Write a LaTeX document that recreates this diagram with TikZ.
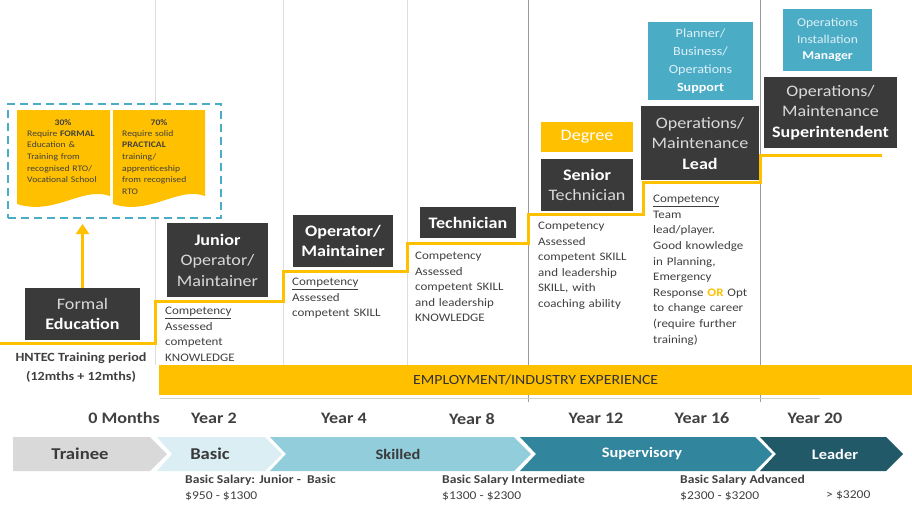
\documentclass[tikz,border=0pt]{standalone}
\usepackage{fontspec}
\setmainfont{Carlito}[FakeStretch=1.13]
\usetikzlibrary{arrows.meta}
\definecolor{boxdark}{HTML}{3A3A3A}
\definecolor{boxlt}{HTML}{D9D9D9}
\definecolor{gold}{HTML}{FFC000}
\definecolor{tealfill}{HTML}{4BACC6}
\definecolor{tealtxt}{HTML}{DDF0F6}
\definecolor{txt}{HTML}{404040}
\definecolor{gridlt}{HTML}{DDDDDD}
\definecolor{griddk}{HTML}{9A9A9A}
\definecolor{chevA}{HTML}{D9D9D9}
\definecolor{chevB}{HTML}{DAEEF3}
\definecolor{chevC}{HTML}{92CDDC}
\definecolor{chevD}{HTML}{31859C}
\definecolor{chevE}{HTML}{215968}
\newcommand\bw[1]{\textbf{\color{white}#1}}
\begin{document}
\begin{tikzpicture}[x=1pt,y=-1pt,
  darkbox/.style={fill=boxdark, text=boxlt, align=center, inner sep=0pt, font=\fontsize{16}{20.5}\selectfont},
  tealbox/.style={fill=tealfill, text=tealtxt, align=center, inner sep=0pt, font=\fontsize{12.5}{17.5}\selectfont},
  comp/.style={anchor=north west, inner sep=0pt, text width=125pt, align=left, text=txt, font=\fontsize{11.5}{15.5}\selectfont},
  doctxt/.style={anchor=north west, inner sep=0pt, text width=90pt, align=left, text=txt, font=\fontsize{8.5}{11.7}\selectfont},
  pct/.style={inner sep=0pt, text=txt, font=\fontsize{8.5}{10}\selectfont\bfseries},
  yearlbl/.style={inner sep=0pt, text=txt, font=\fontsize{16}{19}\selectfont\bfseries},
  chevlbl/.style={inner sep=0pt, font=\fontsize{14.5}{18}\selectfont\bfseries},
  sal/.style={anchor=west, inner sep=0pt, text=txt, font=\fontsize{12}{14}\selectfont},
  salb/.style={sal, font=\fontsize{12}{14}\selectfont\bfseries},
  stair/.style={draw=gold, line width=3pt},
]
\useasboundingbox (0,0) rectangle (912,504);
% grid lines
\draw[gridlt, line width=0.8pt] (155,0) -- (155,365) (283,0) -- (283,365) (407,0) -- (407,365);
\draw[griddk, line width=1pt] (528,0) -- (528,402) (760,0) -- (760,402);
% dashed box and documents
\node[draw=tealfill, fill=white, line width=2pt, dash pattern=on 8pt off 5pt, minimum width=213, minimum height=114, inner sep=0pt, anchor=north west] (dashbox) at (7,103) {};
\fill[gold] (17,110) -- (110,110) -- (110,196) .. controls (82,186) and (55,216) .. (17,204) -- cycle;
\fill[gold] (113,110) -- (205,110) -- (205,196) .. controls (178,186) and (150,216) .. (113,204) -- cycle;
\node[pct] (p1) at (63,123) {30\%};
\node[pct] (p2) at (159,123) {70\%};
\node[doctxt] (d1) at (27,130) {Require \textbf{FORMAL}\\Education \&\\Training from\\recognised RTO/\\Vocational School};
\node[doctxt] (d2) at (122,130) {Require solid\\\textbf{PRACTICAL}\\training/\\apprenticeship\\from recognised\\RTO};
% staircase
\draw[stair] (0,343) -- (155,343) -- (155,301) -- (283,301) -- (283,271) -- (407,271) -- (407,243) -- (528,243) -- (528,214) -- (643,214) -- (643,182) -- (760,182) -- (760,155) -- (882,155);
% dark boxes
\node[darkbox, minimum width=115, minimum height=52] (formal) at (82.5,314) {Formal\\\bw{Education}};
\node[darkbox, minimum width=101, minimum height=74] (junior) at (217.5,260) {\bw{Junior}\\Operator/\\Maintainer};
\node[darkbox, minimum width=100, minimum height=52] (oper) at (343,241) {\bw{Operator/}\\\bw{Maintainer}};
\node[darkbox, minimum width=96, minimum height=31] (tech) at (468,222.5) {\bw{Technician}};
\node[darkbox, minimum width=92, minimum height=52] (senior) at (587,185) {\bw{Senior}\\Technician};
\node[darkbox, fill=gold, text=white, minimum width=92, minimum height=30] (degree) at (587,137) {Degree};
\node[darkbox, minimum width=118, minimum height=74] (lead) at (700,143) {Operations/\\Maintenance\\\bw{Lead}};
\node[darkbox, minimum width=133, minimum height=71] (super) at (830.5,112.5) {Operations/\\Maintenance\\\bw{Superintendent}};
\node[tealbox, font=\fontsize{12.5}{18}\selectfont, minimum width=105, minimum height=78] (planner) at (700.5,61) {Planner/\\Business/\\Operations\\\bw{Support}};
\node[tealbox, font=\fontsize{12}{16.5}\selectfont, minimum width=89, minimum height=62] (oim) at (827.5,40) {Operations\\Installation\\\bw{Manager}};
% arrow
\draw[gold, line width=3pt, -{Triangle[width=13pt,length=10pt]}, shorten >=5pt] (formal.north) -- (formal.north |- dashbox.south);
% HNTEC
\node[inner sep=0pt, align=center, text=txt, font=\fontsize{12.5}{19}\selectfont\bfseries] (hntec) at (81,368) {HNTEC Training period\\(12mths + 12mths)};
% competency texts
\node[comp] (cj) at (165,307) {\underline{Competency}\\Assessed\\competent\\KNOWLEDGE};
\node[comp] (co) at (292,278) {\underline{Competency}\\Assessed\\competent SKILL};
\node[comp] (ct) at (415,252) {Competency\\Assessed\\competent SKILL\\and leadership\\KNOWLEDGE};
\node[comp] (cs) at (538,222) {Competency\\Assessed\\competent SKILL\\and leadership\\SKILL, with\\coaching ability};
\node[comp, font=\fontsize{11.5}{15.6}\selectfont] (cl) at (653,195) {\underline{Competency}\\Team\\lead/player.\\Good knowledge\\in Planning,\\Emergency\\Response \textcolor{gold}{\textbf{OR}} Opt\\to change career\\(require further\\training)};
% employment bar
\node[fill=gold, minimum width=753, minimum height=30, inner sep=0pt, anchor=north west, text=black!80, font=\fontsize{14}{16}\selectfont] (emp) at (159,365) {EMPLOYMENT/INDUSTRY EXPERIENCE};
\draw[gray!35, line width=1pt] (160,398) -- (820,398);
% years
\node[yearlbl] (y0) at (124,418) {0 Months};
\node[yearlbl] (y2) at (214,418) {Year 2};
\node[yearlbl] (y4) at (344,418) {Year 4};
\node[yearlbl] (y8) at (472,419) {Year 8};
\node[yearlbl] (y12) at (596,418) {Year 12};
\node[yearlbl] (y16) at (702,418) {Year 16};
\node[yearlbl] (y20) at (815,418) {Year 20};
% chevrons
\fill[chevA] (13,437) -- (150,437) -- (167,454) -- (150,471) -- (13,471) -- cycle;
\fill[chevB] (157,437) -- (265,437) -- (282,454) -- (265,471) -- (157,471) -- (172,454) -- cycle;
\fill[chevC] (270,437) -- (514,437) -- (531,454) -- (514,471) -- (270,471) -- (286,454) -- cycle;
\fill[chevD] (520,437) -- (755,437) -- (772,454) -- (755,471) -- (520,471) -- (536,454) -- cycle;
\fill[chevE] (760,437) -- (886,437) -- (903,454) -- (886,471) -- (760,471) -- (776,454) -- cycle;
\node[chevlbl, text=boxdark, font=\fontsize{16.5}{18}\selectfont\bfseries] (trainee) at (80,454) {Trainee};
\node[chevlbl, text=boxdark, font=\fontsize{16.5}{18}\selectfont\bfseries] (basic) at (210,454) {Basic};
\node[chevlbl, text=boxdark] (skilled) at (398,454) {Skilled};
\node[chevlbl, text=white] (superv) at (642,454) {Supervisory};
\node[chevlbl, text=white] (leader) at (835,454) {Leader};
% salaries
\node[salb] (s1a) at (185,480) {Basic Salary: Junior -~~Basic};
\node[sal] (s1b) at (185,496) {\$950 - \$1300};
\node[salb] (s2a) at (442,480) {Basic Salary Intermediate};
\node[sal] (s2b) at (442,496) {\$1300 - \$2300};
\node[salb] (s3a) at (680,480) {Basic Salary Advanced};
\node[sal] (s3b) at (680,496) {\$2300 - \$3200};
\node[sal] (s4) at (826,495) {> \$3200};
\end{tikzpicture}
\end{document}
